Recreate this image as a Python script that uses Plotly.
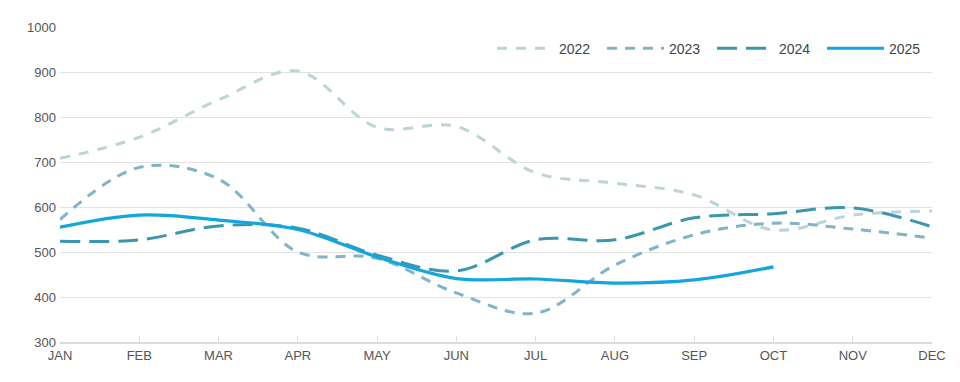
import plotly.graph_objects as go

months = ["JAN", "FEB", "MAR", "APR", "MAY", "JUN", "JUL", "AUG", "SEP", "OCT", "NOV", "DEC"]
y2022 = [708, 755, 838, 902, 777, 779, 676, 653, 627, 549, 582, 591]
y2023 = [572, 688, 662, 500, 486, 409, 364, 471, 538, 564, 551, 531]
y2024 = [524, 527, 558, 553, 493, 458, 527, 527, 576, 585, 598, 556]
y2025 = [555, 582, 571, 550, 489, 441, 440, 431, 438, 467]
y_ticks = [300, 400, 500, 600, 700, 800, 900, 1000]

series = [
    ("2022", y2022, "#bcd3d9", "10px,9px", 3),
    ("2023", y2023, "#80b4c6", "10px,8px", 3),
    ("2024", y2024, "#3c96ad", "20px,9px", 3),
    ("2025", y2025, "#12a6dc", "solid", 3.2),
]

fig = go.Figure()
for name, vals, color, dash, w in series:
    fig.add_trace(go.Scatter(
        x=list(range(len(vals))), y=vals, name=name, mode="lines",
        line=dict(color=color, dash=dash, width=w, shape="spline", smoothing=1.0),
        hoverinfo="skip",
    ))

fig.update_layout(
    width=960, height=382,
    margin=dict(l=52, r=36, t=19, b=48),
    paper_bgcolor="white", plot_bgcolor="white",
    font=dict(family="Liberation Sans, Arial, sans-serif", size=13, color="#555"),
    showlegend=True,
    legend=dict(orientation="h", x=1.0, xanchor="right", y=0.982, yanchor="top",
                font=dict(size=14, color="#444"), itemwidth=57,
                entrywidth=38, entrywidthmode="pixels",
                bgcolor="rgba(0,0,0,0)", traceorder="normal"),
    xaxis=dict(range=[0, 11], tickvals=list(range(12)), ticktext=months,
               showgrid=False, zeroline=False, showline=True, linecolor="#dcdcdc",
               linewidth=2, ticks="inside", ticklen=6, tickcolor="#dcdcdc",
               tickfont=dict(size=13, color="#555")),
    yaxis=dict(range=[300, 1000], tickvals=y_ticks, showgrid=True, gridcolor="#e2e2e2",
               gridwidth=1, zeroline=False, showline=False, ticks="",
               ticklabelstandoff=3,
               tickfont=dict(size=13, color="#555")),
)

fig.write_html("out.html")
